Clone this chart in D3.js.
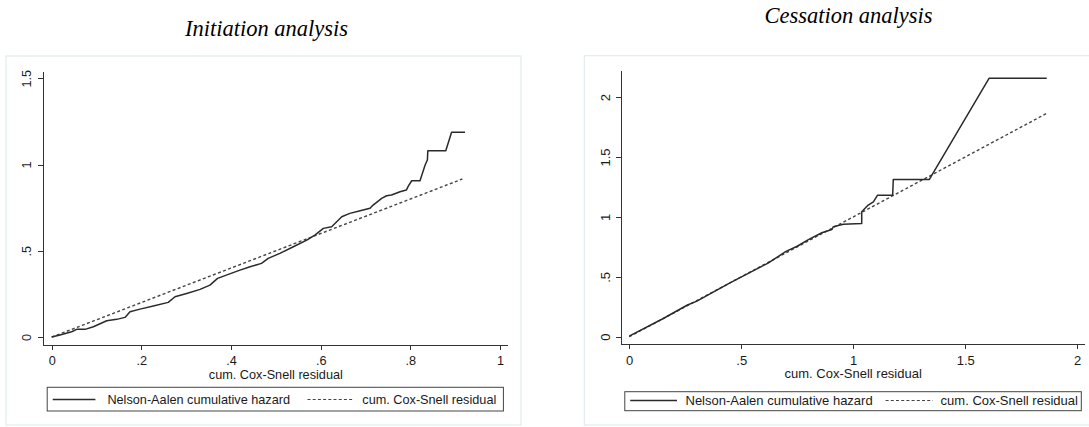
<!DOCTYPE html>
<html>
<head>
<meta charset="utf-8">
<script src="https://cdn.jsdelivr.net/npm/d3@7"></script>
<style>
  html, body { margin: 0; padding: 0; background: #fff; }
  svg { display: block; }
  .axis text { font-family: "Liberation Sans", Arial, sans-serif; fill: #1a1a1a; }
  .axis path, .axis line { stroke: #333; shape-rendering: crispEdges; }
</style>
</head>
<body>
<svg id="chart" width="1089" height="427"></svg>
<script>
// Initiation model: cumulative Cox-Snell residual vs Nelson-Aalen cumulative hazard
const initResidual = [0, 0.0185, 0.0446, 0.0558, 0.0743, 0.093, 0.1227, 0.145, 0.1635, 0.1747,
  0.197, 0.2266, 0.26, 0.275, 0.301, 0.331, 0.353, 0.37, 0.394, 0.42, 0.4425, 0.468, 0.483,
  0.509, 0.539, 0.569, 0.587, 0.606, 0.6245, 0.647, 0.665, 0.688, 0.71, 0.717, 0.736, 0.747,
  0.758, 0.777, 0.791, 0.7955, 0.803, 0.8215, 0.833, 0.838, 0.839, 0.879, 0.892, 0.922];
const initHazard = [0, 0.0116, 0.031, 0.0446, 0.0446, 0.06, 0.0945, 0.1026, 0.114, 0.1467,
  0.162, 0.18, 0.201, 0.2336, 0.253, 0.2765, 0.301, 0.34, 0.3635, 0.388, 0.4075, 0.427, 0.456,
  0.485, 0.5235, 0.562, 0.591, 0.63, 0.639, 0.697, 0.717, 0.732, 0.746, 0.765, 0.804, 0.819,
  0.823, 0.842, 0.852, 0.875, 0.906, 0.906, 0.997, 1.026, 1.08, 1.08, 1.187, 1.187];
const initReference = [0, 0.916];

// Cessation model
const cessResidual = [0, 0.15, 0.26, 0.3, 0.45, 0.6, 0.62, 0.7, 0.75, 0.8, 0.86, 0.905, 0.911,
  0.956, 1.038, 1.038, 1.067, 1.09, 1.108, 1.176, 1.179, 1.34, 1.607, 1.864];
const cessHazard = [0.005, 0.15, 0.265, 0.295, 0.45, 0.595, 0.615, 0.712, 0.755, 0.81, 0.868,
  0.895, 0.918, 0.938, 0.946, 1.043, 1.099, 1.126, 1.18, 1.18, 1.313, 1.313, 2.158, 2.158];
const cessReference = [0, 1.864];

// Axis ticks and labels
const initXTicks = [0, 0.2, 0.4, 0.6, 0.8, 1];
const initXLabels = ["0", ".2", ".4", ".6", ".8", "1"];
const initYTicks = [0, 0.5, 1, 1.5];
const initYLabels = ["0", ".5", "1", "1.5"];
const cessXTicks = [0, 0.5, 1, 1.5, 2];
const cessXLabels = ["0", ".5", "1", "1.5", "2"];
const cessYTicks = [0, 0.5, 1, 1.5, 2];
const cessYLabels = ["0", ".5", "1", "1.5", "2"];

const panelTitles = ["Initiation analysis", "Cessation analysis"];
const xAxisTitle = "cum. Cox-Snell residual";
const legendLabels = ["Nelson-Aalen cumulative hazard", "cum. Cox-Snell residual"];

const svg = d3.select("#chart");

const panels = [
  {
    title: panelTitles[0], titleX: 266.5, titleY: 36,
    frame: [6, 56, 515, 369],
    xDomain: [-0.0185, 1.0156], xRange: [43.4, 507],
    yDomain: [-0.046, 1.538], yRange: [345, 71.7],
    xTicks: initXTicks, xLabels: initXLabels, yTicks: initYTicks, yLabels: initYLabels,
    yLabelOffset: -17, fontSize: 12.7,
    residual: initResidual, hazard: initHazard, ref: initReference,
    legend: { box: [47.2, 387.3, 456.2, 23.7], lineY: 399.5, solid: [52.7, 95.4], text1: 107.4, dashed: [307.5, 354], text2: 362.3, base: 404.3 }
  },
  {
    title: panelTitles[1], titleX: 848.5, titleY: 23,
    frame: [584.3, 55.7, 520, 369.3],
    xDomain: [-0.038, 2.033], xRange: [620.7, 1084.6],
    yDomain: [-0.063, 2.22], yRange: [344.3, 70.7],
    xTicks: cessXTicks, xLabels: cessXLabels, yTicks: cessYTicks, yLabels: cessYLabels,
    yLabelOffset: -15.5, fontSize: 13,
    residual: cessResidual, hazard: cessHazard, ref: cessReference,
    legend: { box: [624.8, 391.7, 456.5, 19], lineY: 400.5, solid: [630.2, 677], text1: 685.5, dashed: [885.6, 932.8], text2: 940.6, base: 405 }
  }
];

panels.forEach(p => {
  const g = svg.append("g");

  // light outer frame of the graph region
  g.append("rect")
    .attr("x", p.frame[0]).attr("y", p.frame[1])
    .attr("width", p.frame[2]).attr("height", p.frame[3])
    .attr("fill", "none").attr("stroke", "#e1eaef").attr("stroke-width", 1.2);

  // title
  g.append("text")
    .attr("x", p.titleX).attr("y", p.titleY)
    .attr("text-anchor", "middle")
    .attr("font-family", "'Liberation Serif', 'Times New Roman', serif")
    .attr("font-style", "italic")
    .attr("font-size", 22.5)
    .attr("fill", "#000")
    .text(p.title);

  const x = d3.scaleLinear().domain(p.xDomain).range(p.xRange);
  const y = d3.scaleLinear().domain(p.yDomain).range(p.yRange);

  // x axis
  const xAxis = d3.axisBottom(x)
    .tickValues(p.xTicks)
    .tickFormat((d, i) => p.xLabels[i])
    .tickSize(5).tickSizeOuter(0).tickPadding(6);
  const gx = g.append("g").attr("class", "axis")
    .attr("transform", `translate(0,${p.yRange[0]})`)
    .call(xAxis);
  gx.selectAll("text").attr("font-size", p.fontSize);

  // y axis with vertical tick labels
  const yAxis = d3.axisLeft(y)
    .tickValues(p.yTicks)
    .tickFormat((d, i) => p.yLabels[i])
    .tickSize(5).tickSizeOuter(0);
  const gy = g.append("g").attr("class", "axis")
    .attr("transform", `translate(${p.xRange[0]},0)`)
    .call(yAxis);
  gy.selectAll("text")
    .attr("font-size", p.fontSize)
    .attr("transform", "rotate(-90)")
    .attr("x", 0)
    .attr("y", p.yLabelOffset)
    .attr("dy", "0.35em")
    .attr("text-anchor", "middle");

  gx.select(".domain").attr("stroke-width", 1.1);
  gy.select(".domain").attr("stroke-width", 1.1);

  // x axis title
  g.append("text")
    .attr("x", (x(p.xTicks[0]) + x(p.xTicks[p.xTicks.length - 1])) / 2)
    .attr("y", p.yRange[0] + 33.5)
    .attr("text-anchor", "middle")
    .attr("font-family", "'Liberation Sans', Arial, sans-serif")
    .attr("font-size", p.fontSize)
    .attr("fill", "#1a1a1a")
    .text(xAxisTitle);

  // reference diagonal (cum. Cox-Snell residual)
  const diag = p.ref.map(v => [v, v]);
  g.append("path")
    .datum(diag)
    .attr("d", d3.line().x(d => x(d[0])).y(d => y(d[1])))
    .attr("fill", "none")
    .attr("stroke", "#444")
    .attr("stroke-width", 1.4)
    .attr("stroke-dasharray", "3,2.4");

  // Nelson-Aalen cumulative hazard
  const na = p.residual.map((r, i) => [r, p.hazard[i]]);
  g.append("path")
    .datum(na)
    .attr("d", d3.line().x(d => x(d[0])).y(d => y(d[1])))
    .attr("fill", "none")
    .attr("stroke", "#2a2a2a")
    .attr("stroke-width", 1.5)
    .attr("stroke-linejoin", "round");

  // legend
  const L = p.legend;
  g.append("rect")
    .attr("x", L.box[0]).attr("y", L.box[1])
    .attr("width", L.box[2]).attr("height", L.box[3])
    .attr("fill", "#fff").attr("stroke", "#444").attr("stroke-width", 1);
  g.append("line")
    .attr("x1", L.solid[0]).attr("x2", L.solid[1])
    .attr("y1", L.lineY).attr("y2", L.lineY)
    .attr("stroke", "#2a2a2a").attr("stroke-width", 1.3);
  g.append("line")
    .attr("x1", L.dashed[0]).attr("x2", L.dashed[1])
    .attr("y1", L.lineY).attr("y2", L.lineY)
    .attr("stroke", "#444").attr("stroke-width", 1.2)
    .attr("stroke-dasharray", "3,2.2");
  [[L.text1, legendLabels[0]], [L.text2, legendLabels[1]]].forEach(([tx, label]) => {
    g.append("text")
      .attr("x", tx).attr("y", L.base)
      .attr("font-family", "'Liberation Sans', Arial, sans-serif")
      .attr("font-size", p.fontSize)
      .attr("fill", "#1a1a1a")
      .text(label);
  });
});
</script>
</body>
</html>
